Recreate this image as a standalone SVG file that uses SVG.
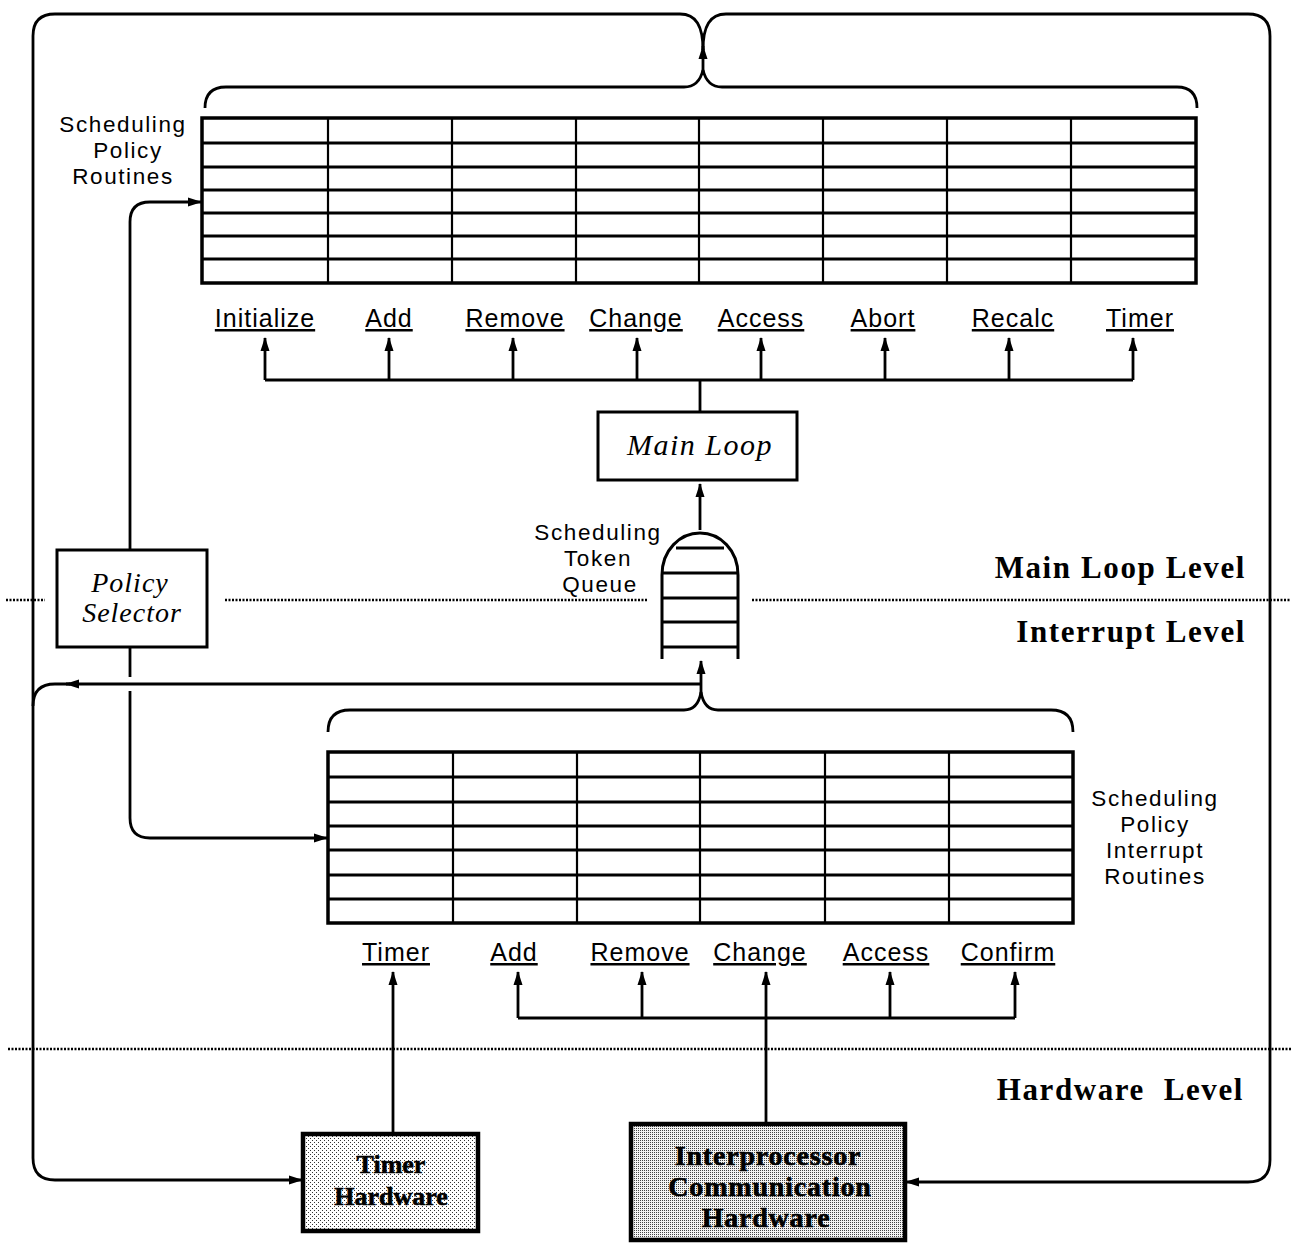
<svg xmlns="http://www.w3.org/2000/svg" width="1291" height="1243" viewBox="0 0 1291 1243">
  <defs>
    <marker id="arr" viewBox="0 0 14 10" refX="13" refY="5" markerWidth="14" markerHeight="10" markerUnits="userSpaceOnUse" orient="auto">
      <path d="M0,0.5 L14,5 L0,9.5 Z" fill="#000"/>
    </marker>
    <pattern id="stipLight" width="4" height="4" patternUnits="userSpaceOnUse">
      <rect width="4" height="4" fill="#fff"/>
      <rect x="0" y="0" width="1" height="1" fill="#333"/>
      <rect x="2" y="2" width="1" height="1" fill="#333"/>
    </pattern>
    <pattern id="stipDark" width="2" height="2" patternUnits="userSpaceOnUse">
      <rect width="2" height="2" fill="#f4f4f4"/>
      <rect x="0" y="0" width="1" height="1" fill="#444"/>
    </pattern>
  </defs>
  <style>
    .ln { fill: none; stroke: #000; stroke-width: 2.8; }
    .dot { fill: none; stroke: #000; stroke-width: 2.5; stroke-dasharray: 2 1.5; }
    .tbl { fill: #fff; stroke: #000; stroke-width: 3.5; }
    .row { stroke: #000; stroke-width: 3; }
    .col { stroke: #000; stroke-width: 2.2; }
    .box { fill: #fff; stroke: #000; stroke-width: 3; }
    .hw { stroke: #000; stroke-width: 4.5; }
    .sans { font-family: "Liberation Sans", Arial, sans-serif; font-size: 22.5px; letter-spacing: 1.6px; fill: #000; }
    .op { font-family: "Liberation Sans", Arial, sans-serif; font-size: 25px; letter-spacing: 1px; fill: #000; text-decoration: underline; }
    .ital { font-family: "Liberation Serif", "Times New Roman", serif; font-style: italic; fill: #000; }
    .lvl { font-family: "Liberation Serif", "Times New Roman", serif; font-weight: bold; font-size: 31px; letter-spacing: 1.6px; fill: #000; }
    .hwt { font-family: "Liberation Serif", "Times New Roman", serif; font-weight: bold; fill: #000; stroke: #000; stroke-width: 0.6; }
  </style>

  <!-- level separators -->
  <g id="levels">
    <line class="dot" x1="6" y1="600" x2="45" y2="600"/>
    <line class="dot" x1="225" y1="600" x2="648" y2="600"/>
    <line class="dot" x1="752" y1="600" x2="1291" y2="600"/>
    <line class="dot" x1="8" y1="1049" x2="1291" y2="1049"/>
    <text class="lvl" x="1246" y="578" text-anchor="end">Main Loop Level</text>
    <text class="lvl" x="1246" y="642" text-anchor="end">Interrupt Level</text>
    <text class="lvl" x="1244" y="1100" text-anchor="end" xml:space="preserve">Hardware  Level</text>
  </g>

  <!-- connectors -->
  <g id="connectors">
    <!-- top brace collecting the main-loop routines -->
    <path class="ln" d="M205,108 Q205,87 226,87 H684 Q699,87 703,70 Q707,87 722,87 H1177 Q1197,87 1197,108"/>
    <path class="ln" d="M703,72 L703,46" marker-end="url(#arr)"/>
    <!-- outer feedback loop to the hardware -->
    <path class="ln" d="M703,50 C703,26 696,14 680,14 H55 Q33,14 33,36 V1158 Q33,1180 55,1180 H302" marker-end="url(#arr)"/>
    <path class="ln" d="M703,50 C703,26 710,14 726,14 H1248 Q1270,14 1270,36 V1160 Q1270,1182 1248,1182 H906" marker-end="url(#arr)"/>

    <!-- main loop fan-out -->
    <line class="ln" x1="265" y1="380" x2="1133" y2="380"/>
    <line class="ln" x1="700" y1="380" x2="700" y2="412"/>
    <path class="ln" d="M265,380 V338" marker-end="url(#arr)"/>
    <path class="ln" d="M389,380 V338" marker-end="url(#arr)"/>
    <path class="ln" d="M513,380 V338" marker-end="url(#arr)"/>
    <path class="ln" d="M637,380 V338" marker-end="url(#arr)"/>
    <path class="ln" d="M761,380 V338" marker-end="url(#arr)"/>
    <path class="ln" d="M885,380 V338" marker-end="url(#arr)"/>
    <path class="ln" d="M1009,380 V338" marker-end="url(#arr)"/>
    <path class="ln" d="M1133,380 V338" marker-end="url(#arr)"/>

    <!-- queue to main loop -->
    <path class="ln" d="M700,530 V484" marker-end="url(#arr)"/>

    <!-- bottom brace collecting the interrupt routines -->
    <path class="ln" d="M328,732 Q328,710 350,710 H684 Q698,710 701,692 Q704,710 718,710 H1051 Q1073,710 1073,732"/>
    <path class="ln" d="M701,694 V661" marker-end="url(#arr)"/>
    <path class="ln" d="M701,684 H66" marker-end="url(#arr)"/>
    <path class="ln" d="M70,684 H55 Q33,684 33,706"/>

    <!-- policy selector outputs -->
    <path class="ln" d="M130,549 V222 Q130,202 150,202 H201" marker-end="url(#arr)"/>
    <path class="ln" d="M130,648 V677"/>
    <path class="ln" d="M130,691 V818 Q130,838 150,838 H327" marker-end="url(#arr)"/>

    <!-- interrupt fan-out -->
    <line class="ln" x1="518" y1="1018" x2="1015" y2="1018"/>
    <path class="ln" d="M518,1018 V972" marker-end="url(#arr)"/>
    <path class="ln" d="M642,1018 V972" marker-end="url(#arr)"/>
    <path class="ln" d="M766,1123 V972" marker-end="url(#arr)"/>
    <path class="ln" d="M890,1018 V972" marker-end="url(#arr)"/>
    <path class="ln" d="M1015,1018 V972" marker-end="url(#arr)"/>
    <path class="ln" d="M393,1133 V972" marker-end="url(#arr)"/>
  </g>

  <!-- main loop routine table -->
  <g id="policy-routines">
    <rect class="tbl" x="202" y="118" width="994" height="165"/>
    <line class="row" x1="202" y1="143" x2="1196" y2="143"/>
    <line class="row" x1="202" y1="167" x2="1196" y2="167"/>
    <line class="row" x1="202" y1="190" x2="1196" y2="190"/>
    <line class="row" x1="202" y1="213" x2="1196" y2="213"/>
    <line class="row" x1="202" y1="236" x2="1196" y2="236"/>
    <line class="row" x1="202" y1="259" x2="1196" y2="259"/>
    <line class="col" x1="328" y1="118" x2="328" y2="283"/>
    <line class="col" x1="452" y1="118" x2="452" y2="283"/>
    <line class="col" x1="576" y1="118" x2="576" y2="283"/>
    <line class="col" x1="699" y1="118" x2="699" y2="283"/>
    <line class="col" x1="823" y1="118" x2="823" y2="283"/>
    <line class="col" x1="947" y1="118" x2="947" y2="283"/>
    <line class="col" x1="1071" y1="118" x2="1071" y2="283"/>
    <text class="sans" x="123" y="132" text-anchor="middle">Scheduling</text>
    <text class="sans" x="128" y="158" text-anchor="middle">Policy</text>
    <text class="sans" x="123" y="184" text-anchor="middle">Routines</text>
    <text class="op" x="265" y="327" text-anchor="middle">Initialize</text>
    <text class="op" x="389" y="327" text-anchor="middle">Add</text>
    <text class="op" x="515" y="327" text-anchor="middle">Remove</text>
    <text class="op" x="636" y="327" text-anchor="middle">Change</text>
    <text class="op" x="761" y="327" text-anchor="middle">Access</text>
    <text class="op" x="883" y="327" text-anchor="middle">Abort</text>
    <text class="op" x="1013" y="327" text-anchor="middle">Recalc</text>
    <text class="op" x="1140" y="327" text-anchor="middle">Timer</text>
  </g>

  <!-- main loop -->
  <g id="main-loop">
    <rect class="box" x="598" y="412" width="199" height="68"/>
    <text class="ital" x="700" y="455" font-size="30" letter-spacing="1.5" text-anchor="middle">Main Loop</text>
  </g>

  <!-- scheduling token queue -->
  <g id="token-queue">
    <path class="ln" d="M662,659 V575 C662,550 680,533 700,533 C720,533 738,550 738,575 V659" style="stroke-width:3"/>
    <line class="row" x1="676" y1="548" x2="724" y2="548"/>
    <line class="row" x1="662" y1="573" x2="738" y2="573"/>
    <line class="row" x1="662" y1="598" x2="738" y2="598"/>
    <line class="row" x1="662" y1="622" x2="738" y2="622"/>
    <line class="row" x1="662" y1="647" x2="738" y2="647"/>
    <text class="sans" x="598" y="540" text-anchor="middle">Scheduling</text>
    <text class="sans" x="598" y="566" text-anchor="middle">Token</text>
    <text class="sans" x="600" y="592" text-anchor="middle">Queue</text>
  </g>

  <!-- policy selector -->
  <g id="policy-selector">
    <rect class="box" x="57" y="550" width="150" height="97"/>
    <text class="ital" x="130" y="592" font-size="28" letter-spacing="1" text-anchor="middle">Policy</text>
    <text class="ital" x="132" y="622" font-size="28" letter-spacing="1" text-anchor="middle">Selector</text>
  </g>

  <!-- interrupt routine table -->
  <g id="interrupt-routines">
    <rect class="tbl" x="328" y="752" width="745" height="171"/>
    <line class="row" x1="328" y1="777" x2="1073" y2="777"/>
    <line class="row" x1="328" y1="802" x2="1073" y2="802"/>
    <line class="row" x1="328" y1="826" x2="1073" y2="826"/>
    <line class="row" x1="328" y1="850" x2="1073" y2="850"/>
    <line class="row" x1="328" y1="875" x2="1073" y2="875"/>
    <line class="row" x1="328" y1="899" x2="1073" y2="899"/>
    <line class="col" x1="453" y1="752" x2="453" y2="923"/>
    <line class="col" x1="577" y1="752" x2="577" y2="923"/>
    <line class="col" x1="700" y1="752" x2="700" y2="923"/>
    <line class="col" x1="825" y1="752" x2="825" y2="923"/>
    <line class="col" x1="949" y1="752" x2="949" y2="923"/>
    <text class="sans" x="1155" y="806" text-anchor="middle">Scheduling</text>
    <text class="sans" x="1155" y="832" text-anchor="middle">Policy</text>
    <text class="sans" x="1155" y="858" text-anchor="middle">Interrupt</text>
    <text class="sans" x="1155" y="884" text-anchor="middle">Routines</text>
    <text class="op" x="396" y="961" text-anchor="middle">Timer</text>
    <text class="op" x="514" y="961" text-anchor="middle">Add</text>
    <text class="op" x="640" y="961" text-anchor="middle">Remove</text>
    <text class="op" x="760" y="961" text-anchor="middle">Change</text>
    <text class="op" x="886" y="961" text-anchor="middle">Access</text>
    <text class="op" x="1008" y="961" text-anchor="middle">Confirm</text>
  </g>

  <!-- hardware -->
  <g id="timer-hardware">
    <rect class="hw" x="303" y="1134" width="175" height="97" fill="url(#stipLight)"/>
    <text class="hwt" x="391" y="1173" font-size="26" text-anchor="middle">Timer</text>
    <text class="hwt" x="391" y="1205" font-size="26" text-anchor="middle">Hardware</text>
  </g>
  <g id="ipc-hardware">
    <rect class="hw" x="631" y="1124" width="274" height="116" fill="url(#stipDark)"/>
    <text class="hwt" x="768" y="1165" font-size="28" letter-spacing="0.8" text-anchor="middle">Interprocessor</text>
    <text class="hwt" x="770" y="1196" font-size="28" letter-spacing="0.8" text-anchor="middle">Communication</text>
    <text class="hwt" x="766" y="1227" font-size="28" letter-spacing="0.8" text-anchor="middle">Hardware</text>
  </g>
</svg>
